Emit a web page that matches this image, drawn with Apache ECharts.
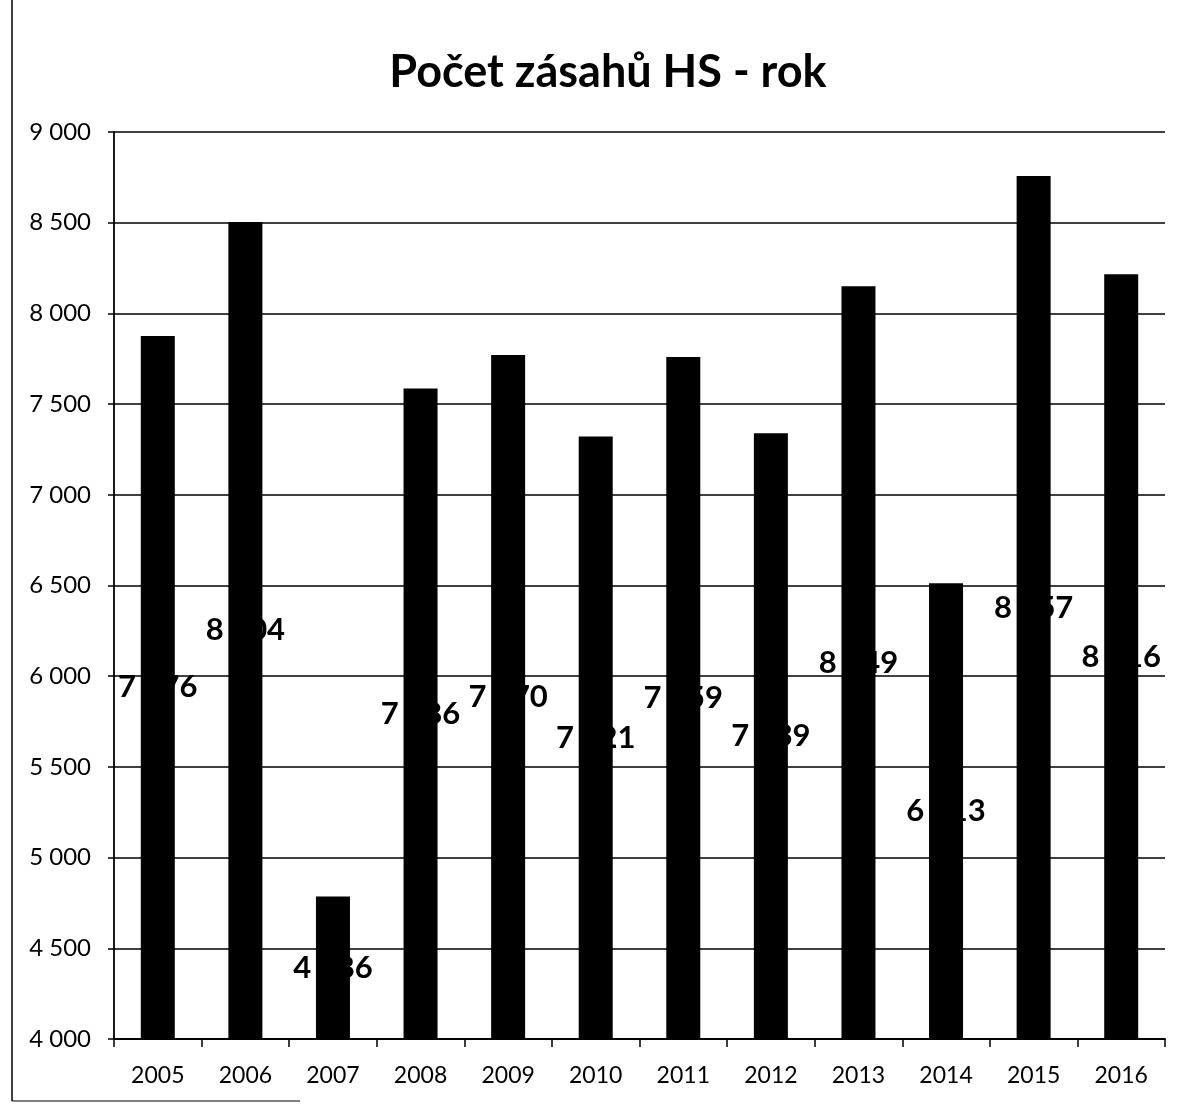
<!DOCTYPE html>
<html>
<head>
    <meta charset="UTF-8">
    <title>Počet zásahů HS - rok</title>
    <script src="https://cdn.jsdelivr.net/npm/echarts@6/dist/echarts.min.js"></script>
    <style>
        html, body { margin: 0; padding: 0; background: #fff; }
        #main { width: 1184px; height: 1104px; }
    </style>
</head>
<body>
    <div id="main"></div>
    <script type="text/javascript">
        // roky a počty zásahů
        var years = ['2005', '2006', '2007', '2008', '2009', '2010', '2011', '2012', '2013', '2014', '2015', '2016'];
        var counts = [7876, 8504, 4786, 7586, 7770, 7321, 7759, 7339, 8149, 6513, 8757, 8216];

        var yMin = 4000, yMax = 9000, yStep = 500;

        function fmt(v) {
            // mezera jako oddělovač tisíců
            return String(v).replace(/\B(?=(\d{3})+(?!\d))/g, ' ');
        }

        var myChart = echarts.init(document.getElementById('main'));

        var option = {
            backgroundColor: '#fff',
            animation: false,
            title: {
                text: 'Počet zásahů HS - rok',
                left: 603,
                textAlign: 'center',
                top: 45,
                textStyle: {
                    fontFamily: 'Lato',
                    fontWeight: 'bold',
                    fontSize: 45,
                    color: '#000'
                }
            },
            grid: {
                left: 114,
                right: 19,
                top: 132,
                bottom: 65
            },
            xAxis: {
                type: 'category',
                data: years,
                axisLine: { lineStyle: { color: '#000', width: 1.8 } },
                axisTick: { show: true, length: 8, lineStyle: { color: '#000', width: 1.5 } },
                axisLabel: {
                    margin: 25,
                    fontFamily: 'Lato',
                    fontSize: 23,
                    color: '#000'
                }
            },
            yAxis: {
                type: 'value',
                min: yMin,
                max: yMax,
                interval: yStep,
                axisLine: { show: true, lineStyle: { color: '#000', width: 1.8 } },
                axisTick: { show: true, length: 6, lineStyle: { color: '#000', width: 1.5 } },
                splitLine: { show: true, lineStyle: { color: '#000', width: 1.6 } },
                axisLabel: {
                    margin: 23,
                    fontFamily: 'Lato',
                    fontSize: 24,
                    color: '#000',
                    formatter: fmt
                }
            },
            graphic: [
                { type: 'line', shape: { x1: 12, y1: 0, x2: 12, y2: 1101 }, style: { stroke: '#000', lineWidth: 1.5 } },
                { type: 'line', shape: { x1: 12, y1: 1101, x2: 300, y2: 1101 }, style: { stroke: '#000', lineWidth: 1.2 } }
            ],
            series: [
                {
                    type: 'bar',
                    data: counts,
                    barWidth: 34,
                    itemStyle: { color: '#000' },
                    label: {
                        show: true,
                        position: 'inside',
                        color: '#000',
                        textBorderWidth: 0,
                        fontFamily: 'Lato',
                        fontWeight: 'bold',
                        fontSize: 31,
                        formatter: function (p) { return fmt(p.value); }
                    }
                }
            ]
        };

        myChart.setOption(option);
    </script>
</body>
</html>
